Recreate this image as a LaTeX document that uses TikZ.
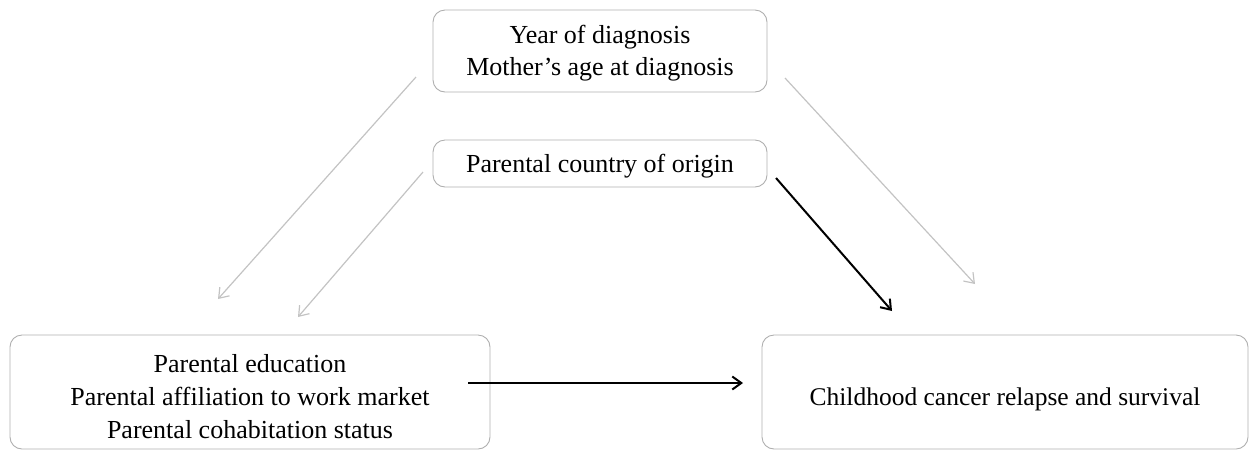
\documentclass[tikz,border=0pt]{standalone}
\usepackage{fontspec}
\setmainfont{Liberation Serif}
\usetikzlibrary{arrows.meta}
\definecolor{boxline}{RGB}{175,175,175}
\definecolor{greyarrow}{RGB}{195,195,195}
\tikzset{
  box/.style={draw=boxline, line width=0.9pt, rounded corners=12pt, inner sep=0pt},
  txt/.style={align=center, font=\fontsize{26}{33}\selectfont, inner sep=0pt},
  greyarr/.style={draw=greyarrow, line width=1.2pt, -{Straight Barb[length=9pt,width=13pt,line width=1.2pt]}},
  blackarr/.style={draw=black, line width=2pt, -{Straight Barb[length=9pt,width=13pt,line width=2pt]}}
}
\begin{document}
\begin{tikzpicture}[x=1pt,y=-1pt]
\useasboundingbox (0,0) rectangle (1256,451);
\node[box, minimum width=334pt, minimum height=82pt] (top) at (600,51) {};
\node[txt, font=\fontsize{26}{32}\selectfont] (toptext) at ([yshift=-2pt]top.center) {Year of diagnosis\\Mother’s age at diagnosis};
\node[box, minimum width=334pt, minimum height=47pt] (mid) at (600,163.5) {};
\node[txt] (midtext) at ([yshift=-3pt]mid.center) {Parental country of origin};
\node[box, minimum width=480pt, minimum height=114pt] (ses) at (250,392) {};
\node[txt] (sestext) at ([yshift=-5pt]ses.center) {Parental education\\Parental affiliation to work market\\Parental cohabitation status};
\node[box, minimum width=486pt, minimum height=114pt] (out) at (1005,392) {};
\node[txt, font=\fontsize{25.5}{33}\selectfont] (outtext) at ([yshift=-7pt]out.center) {Childhood cancer relapse and survival};
\coordinate (a1s) at (416,77);
\coordinate (a1e) at (218,299);
\coordinate (a2s) at (423,172);
\coordinate (a2e) at (298,317);
\coordinate (a3s) at (785,78);
\coordinate (a3e) at (975,284);
\coordinate (a4s) at (776,178);
\coordinate (a4e) at (892,311);
\coordinate (a5s) at (468,383);
\coordinate (a5e) at (743,383);
\draw[greyarr] (a1s) -- (a1e);
\draw[greyarr] (a2s) -- (a2e);
\draw[greyarr] (a3s) -- (a3e);
\draw[blackarr] (a4s) -- (a4e);
\draw[blackarr] (a5s) -- (a5e);
\end{tikzpicture}
\end{document}
